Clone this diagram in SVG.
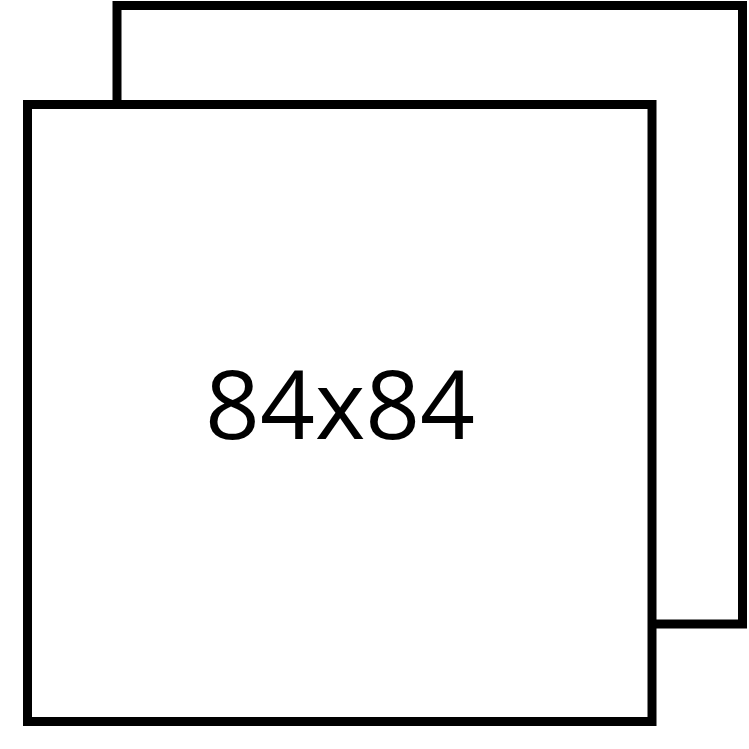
<svg xmlns="http://www.w3.org/2000/svg" width="749" height="749" viewBox="0 0 749 749">
<style>
.box{fill:#fff;stroke:#000;stroke-width:9}
.lbl{font-family:"Open Sans","Noto Sans",sans-serif;font-size:96px;fill:#000;text-anchor:middle}
</style>
<rect width="749" height="749" fill="#fff"/>
<g id="back">
<rect class="box" x="117" y="5.5" width="625.5" height="618.5"/>
</g>
<g id="front">
<rect class="box" x="27.5" y="104.5" width="624.5" height="617"/>
<text class="lbl" x="340" y="439">84x84</text>
</g>
<g id="connectors"/>
</svg>
